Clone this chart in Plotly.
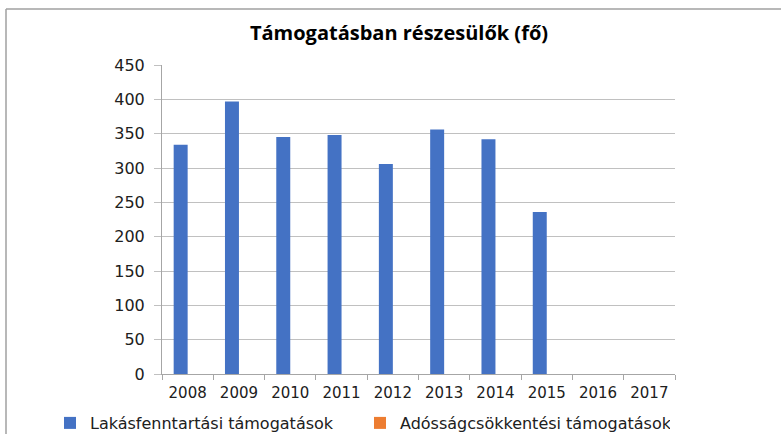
import plotly.graph_objects as go

years = ["2008", "2009", "2010", "2011", "2012", "2013", "2014", "2015", "2016", "2017"]
lakas = [334, 397, 345, 348, 306, 356, 342, 236, 0, 0]
adossag = [0, 0, 0, 0, 0, 0, 0, 0, 0, 0]

W, H = 781, 434
L, R, T, B = 162, 106, 65, 60
pw, ph = W - L - R, H - T - B

def px(x):
    return (x - L) / pw

def py(y):
    return (H - B - y) / ph

font = "DejaVu Sans"
fig = go.Figure()
fig.add_trace(go.Bar(x=years, y=lakas, name="Lakásfenntartási támogatások",
                     marker=dict(color="#4472C4", line=dict(width=0))))
fig.add_trace(go.Bar(x=years, y=adossag, name="Adósságcsökkentési támogatások",
                     marker=dict(color="#ED7D31", line=dict(width=0))))

fig.update_layout(
    width=W, height=H,
    margin=dict(l=L, r=R, t=T, b=B, autoexpand=False),
    paper_bgcolor="white", plot_bgcolor="white",
    barmode="group", bargap=0.455, bargroupgap=0,
    title=dict(text="<b>Támogatásban részesülők (fő)</b>", x=px(399), xref="paper",
               xanchor="center", y=1 - 33 / H, yanchor="middle",
               font=dict(family="Open Sans", size=20, color="#000000")),
    showlegend=True,
    legend=dict(orientation="h", x=px(50), xanchor="left", y=py(423), yanchor="middle",
                font=dict(family=font, size=16, color="#202020"),
                itemwidth=30, traceorder="normal", entrywidth=265, entrywidthmode="pixels"),
    xaxis=dict(type="category", showline=True, linecolor="#a6a6a6", linewidth=1,
               ticks="outside", ticklen=5, tickcolor="#a6a6a6", tickson="boundaries",
               showgrid=False, ticklabelstandoff=5,
               tickfont=dict(family=font, size=15, color="#202020")),
    yaxis=dict(range=[0, 450], dtick=50, showline=True, linecolor="#a6a6a6", linewidth=1,
               ticks="outside", ticklen=7, tickcolor="#c0c0c0", ticklabelstandoff=6,
               showgrid=True, gridcolor="#c0c0c0", gridwidth=1, zeroline=False,
               tickfont=dict(family=font, size=16, color="#202020")),
    shapes=[
        dict(type="line", xref="paper", yref="paper", x0=px(6), x1=px(W + 5), y0=py(9), y1=py(9),
             line=dict(color="#a0a0a0", width=1.5)),
        dict(type="line", xref="paper", yref="paper", x0=px(6), x1=px(6), y0=py(9), y1=py(H + 5),
             line=dict(color="#a0a0a0", width=1.5)),
    ],
)

fig.write_html("out.html", config={"displayModeBar": False},
               post_script="document.body.style.margin='0';document.body.style.overflow='hidden';")
